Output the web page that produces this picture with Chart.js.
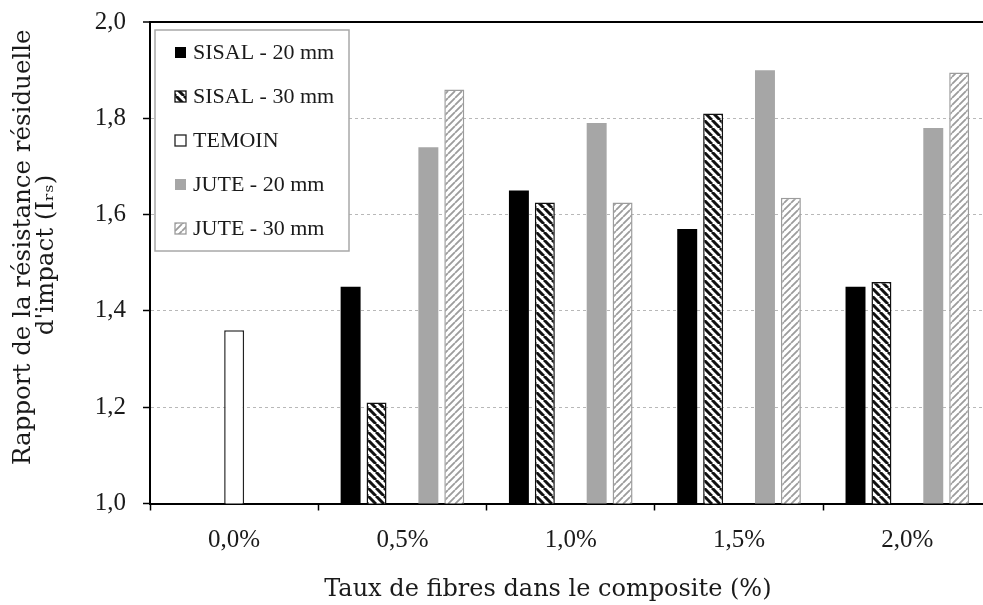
<!DOCTYPE html>
<html><head><meta charset="utf-8">
<script src="https://cdn.jsdelivr.net/npm/chart.js@4"></script>
<style>
html,body{margin:0;padding:0;background:#fff;overflow:hidden;width:983px;height:605px}
#wrap{position:absolute;left:0;top:0;width:1000px;height:605px}
</style>
</head><body><div id="wrap"><canvas id="c" width="1000" height="605"></canvas></div>
<script>
const categories = ['0,0%', '0,5%', '1,0%', '1,5%', '2,0%'];
const seriesNames = ['SISAL - 20 mm', 'SISAL - 30 mm', 'TEMOIN', 'JUTE - 20 mm', 'JUTE - 30 mm'];
const sisal20 = [null, 1.45, 1.65, 1.57, 1.45];
const sisal30 = [null, 1.21, 1.625, 1.81, 1.46];
const temoin  = [1.36, null, null, null, null];
const jute20  = [null, 1.74, 1.79, 1.90, 1.78];
const jute30  = [null, 1.86, 1.625, 1.635, 1.895];
const yTicks  = [1.0, 1.2, 1.4, 1.6, 1.8, 2.0];
const xTitle  = 'Taux de fibres dans le composite (%)';
const yTitle  = ['Rapport de la résistance résiduelle', "d'impact (Iᵣₛ)"];

function hatch(dir, stripe, bg, p, lw) {
  const c = document.createElement('canvas');
  c.width = p; c.height = p;
  const g = c.getContext('2d');
  g.fillStyle = bg; g.fillRect(0, 0, p, p);
  g.strokeStyle = stripe; g.lineWidth = lw;
  g.beginPath();
  for (const o of [-p, 0, p]) {
    if (dir === 'back') { g.moveTo(o, 0); g.lineTo(o + p, p); }
    else { g.moveTo(o, p); g.lineTo(o + p, 0); }
  }
  g.stroke();
  return document.getElementById('c').getContext('2d').createPattern(c, 'repeat');
}

const sisalHatch = hatch('back', '#111', '#fff', 8, 3);
const juteHatch = hatch('fwd', '#9c9c9c', '#fff', 7, 1.8);

const F = "'Liberation Serif', serif";
const FT = "'DejaVu Serif', serif";

const legendPlugin = {
  id: 'boxLegend',
  afterDatasetsDraw(chart) {
    const ctx = chart.ctx, ca = chart.chartArea;
    const x0 = ca.left + 5, y0 = ca.top + 8, w = 194, h = 221;
    ctx.save();
    ctx.fillStyle = '#fff'; ctx.fillRect(x0, y0, w, h);
    ctx.strokeStyle = '#a8a8a8'; ctx.lineWidth = 1.5; ctx.strokeRect(x0, y0, w, h);
    ctx.font = '22px ' + F; ctx.textBaseline = 'middle'; ctx.textAlign = 'left';
    chart.data.datasets.forEach((ds, i) => {
      const cy = y0 + 22.5 + i * 44;
      const bx = x0 + 20, bs = 11;
      ctx.fillStyle = ds.backgroundColor; ctx.fillRect(bx, cy - bs / 2, bs, bs);
      if (ds.borderWidth) {
        ctx.strokeStyle = ds.borderColor; ctx.lineWidth = 1.3;
        ctx.strokeRect(bx, cy - bs / 2, bs, bs);
      }
      ctx.fillStyle = '#1a1a1a';
      ctx.fillText(ds.label, x0 + 38, cy + 1);
    });
    ctx.restore();
  }
};

new Chart(document.getElementById('c'), {
  type: 'bar',
  data: {
    labels: categories,
    datasets: [
      { label: seriesNames[0], data: sisal20, backgroundColor: '#000', borderWidth: 0 },
      { label: seriesNames[1], data: sisal30, backgroundColor: sisalHatch, borderColor: '#111', borderWidth: 1.5 },
      { label: seriesNames[2], data: temoin, backgroundColor: '#fff', borderColor: '#222', borderWidth: 1.5 },
      { label: seriesNames[3], data: jute20, backgroundColor: '#a6a6a6', borderWidth: 0 },
      { label: seriesNames[4], data: jute30, backgroundColor: juteHatch, borderColor: '#9c9c9c', borderWidth: 1.5 }
    ]
  },
  options: {
    responsive: false, animation: false, devicePixelRatio: 1,
    layout: { padding: { top: 22, right: 8.5, left: 0, bottom: 0 } },
    plugins: { legend: { display: false }, tooltip: { enabled: false } },
    datasets: { bar: { categoryPercentage: 0.77, barPercentage: 0.77 } },
    scales: {
      x: {
        grid: { offset: true, drawOnChartArea: false, drawTicks: true, tickLength: 7, tickColor: '#000', tickWidth: 1.5 },
        border: { display: true, color: '#000', width: 2 },
        ticks: { font: { family: F, size: 25 }, color: '#1a1a1a', padding: 15, maxRotation: 0 },
        title: { display: true, text: xTitle + '      ', font: { family: FT, size: 24, lineHeight: 1 }, color: '#1a1a1a', padding: { top: 0, bottom: 3 } },
        afterFit(s) { s.height = 101.5; }
      },
      y: {
        min: 1, max: 2,
        afterBuildTicks(s) { s.ticks = yTicks.map(v => ({ value: v })); },
        ticks: { callback: v => Number(v).toFixed(1).replace('.', ','), font: { family: F, size: 25, lineHeight: 0.4 }, color: '#1a1a1a', padding: 17 },
        grid: {
          color: c => (c.tick && c.tick.value === 2) ? '#000' : '#b8b8b8',
          lineWidth: c => (c.tick && c.tick.value === 2) ? 2 : 1,
          drawTicks: true, tickLength: 7, tickColor: '#000', tickWidth: 1.5
        },
        border: { display: true, color: '#000', width: 2, dash: c => (c.tick && c.tick.value !== 2) ? [3, 3] : [] },
        title: { display: true, text: ['    ' + yTitle[0], '  ' + yTitle[1]], font: { family: FT, size: 24.5, lineHeight: 0.95 }, color: '#1a1a1a', padding: { top: 11.6, bottom: 0 } },
        afterFit(s) { s.width = 150; }
      }
    }
  },
  plugins: [legendPlugin]
});
</script>
</body></html>
